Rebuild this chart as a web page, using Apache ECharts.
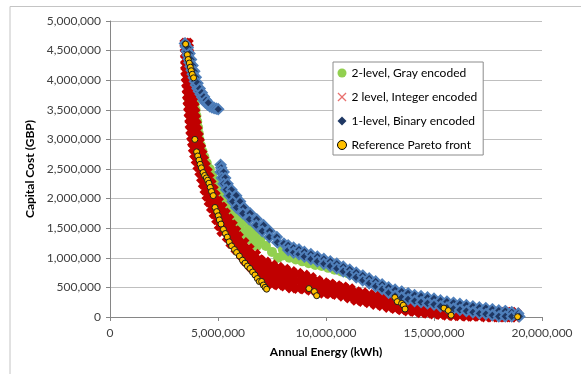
<!DOCTYPE html>
<html>
<head>
<meta charset="utf-8">
<script src="https://cdn.jsdelivr.net/npm/echarts@6/dist/echarts.min.js"></script>
<style>
    html, body { margin: 0; padding: 0; background: #fff; }
    #chart { width: 581px; height: 374px; }
</style>
</head>
<body>
<div id="chart"></div>
<script>
    // [annual energy kWh, capital cost GBP]
    var grayEncoded = [
        [3.87e6,3.7e6],[3.62e6,3.7e6],[3.92e6,3.6e6],[3.66e6,3.6e6],[3.96e6,3.5e6],[3.70e6,3.5e6],
        [4.00e6,3.4e6],[3.74e6,3.4e6],[4.04e6,3.3e6],[3.78e6,3.3e6],[4.08e6,3.2e6],[3.82e6,3.2e6],
        [4.11e6,3.1e6],[3.86e6,3.1e6],[4.14e6,3.0e6],[3.90e6,3.0e6],[4.20e6,2.9e6],[3.95e6,2.9e6],
        [4.28e6,2.8e6],[4.01e6,2.8e6],[4.37e6,2.7e6],[4.09e6,2.7e6],[4.48e6,2.6e6],[4.18e6,2.6e6],
        [4.62e6,2.5e6],[4.30e6,2.5e6],[4.73e6,2.4e6],[4.42e6,2.4e6],[4.84e6,2.3e6],[4.54e6,2.3e6],
        [4.96e6,2.2e6],[4.66e6,2.2e6],[5.09e6,2.1e6],[4.78e6,2.1e6],
        [5.24e6,2.0e6],[4.92e6,2.0e6],[4.62e6,2.0e6],[5.42e6,1.9e6],[5.08e6,1.9e6],[4.76e6,1.9e6],
        [5.62e6,1.8e6],[5.26e6,1.8e6],[4.92e6,1.8e6],[5.84e6,1.7e6],[5.46e6,1.7e6],[5.10e6,1.7e6],
        [6.12e6,1.6e6],[5.72e6,1.6e6],[5.32e6,1.6e6],[6.44e6,1.5e6],[6.02e6,1.5e6],[5.60e6,1.5e6],
        [6.70e6,1.4e6],[6.28e6,1.4e6],[5.86e6,1.4e6],[6.96e6,1.3e6],[6.54e6,1.3e6],[6.10e6,1.3e6],
        [7.22e6,1.2e6],[6.80e6,1.2e6],[7.50e6,1.1e6],[7.78e6,1.0e6],
        [8.0e6,1.04e6],[8.0e6,1.14e6],[8.3e6,1.00e6],[8.3e6,1.10e6],[8.6e6,0.97e6],[8.6e6,1.07e6],
        [8.9e6,0.94e6],[8.9e6,1.04e6],[9.2e6,0.91e6],[9.2e6,1.00e6],[9.5e6,0.88e6],[9.5e6,0.97e6],
        [9.8e6,0.86e6],[9.8e6,0.94e6],[10.1e6,0.83e6],[10.4e6,0.80e6],[10.7e6,0.77e6],[11.0e6,0.74e6],
        [11.3e6,0.71e6],[11.6e6,0.68e6]
    ];

    var integerEncoded = [
        [3.49e6,4.62e6],[3.60e6,4.62e6],[3.50e6,4.55e6],[3.61e6,4.55e6],[3.51e6,4.45e6],[3.62e6,4.45e6],
        [3.52e6,4.35e6],[3.62e6,4.35e6],[3.52e6,4.25e6],[3.63e6,4.25e6],[3.53e6,4.15e6],[3.64e6,4.15e6],
        [3.55e6,4.05e6],[3.68e6,4.05e6],[3.57e6,3.95e6],[3.72e6,3.95e6],[3.59e6,3.85e6],[3.76e6,3.85e6],
        [3.61e6,3.75e6],[3.80e6,3.75e6],[3.63e6,3.65e6],[3.84e6,3.65e6],[3.66e6,3.55e6],[3.87e6,3.55e6],
        [3.68e6,3.45e6],[3.91e6,3.45e6],[3.71e6,3.35e6],[3.94e6,3.35e6],[3.73e6,3.25e6],[3.98e6,3.25e6],
        [3.76e6,3.15e6],[4.01e6,3.15e6],[3.80e6,3.05e6],[4.07e6,3.05e6],[3.84e6,2.95e6],[4.12e6,2.95e6],
        [3.88e6,2.85e6],[4.18e6,2.85e6],[3.94e6,2.75e6],[4.24e6,2.75e6],[4.01e6,2.65e6],[4.31e6,2.65e6],
        [4.09e6,2.55e6],[4.39e6,2.55e6],[4.18e6,2.45e6],[4.48e6,2.45e6],[4.26e6,2.35e6],[4.57e6,2.35e6],
        [4.34e6,2.25e6],[4.66e6,2.25e6],[4.42e6,2.15e6],[4.76e6,2.15e6],
        [4.51e6,2.05e6],[4.68e6,2.05e6],[4.85e6,2.05e6],[4.61e6,1.95e6],[4.81e6,1.95e6],[5.00e6,1.95e6],
        [4.72e6,1.85e6],[4.94e6,1.85e6],[5.16e6,1.85e6],[4.84e6,1.75e6],[5.08e6,1.75e6],[5.32e6,1.75e6],
        [4.96e6,1.65e6],[5.22e6,1.65e6],[5.48e6,1.65e6],[5.08e6,1.55e6],[5.36e6,1.55e6],[5.64e6,1.55e6],
        [5.20e6,1.45e6],[5.42e6,1.45e6],[5.63e6,1.45e6],[5.80e6,1.45e6],
        [5.45e6,1.35e6],[5.68e6,1.35e6],[5.92e6,1.35e6],[5.62e6,1.25e6],[5.90e6,1.25e6],[6.18e6,1.25e6],
        [5.85e6,1.15e6],[6.12e6,1.15e6],[6.42e6,1.15e6],[6.10e6,1.05e6],[6.40e6,1.05e6],[6.72e6,1.05e6],
        [6.30e6,0.95e6],[6.60e6,0.95e6],[6.95e6,0.95e6],[6.55e6,0.85e6],[6.85e6,0.85e6],
        [6.9e6,0.74e6],[6.9e6,0.86e6],[6.9e6,0.96e6],
        [7.2e6,0.58e6],[7.2e6,0.70e6],[7.2e6,0.82e6],[7.2e6,0.92e6],
        [7.5e6,0.56e6],[7.5e6,0.66e6],[7.5e6,0.76e6],[7.5e6,0.87e6],
        [7.8e6,0.55e6],[7.8e6,0.65e6],[7.8e6,0.75e6],[7.8e6,0.83e6],
        [8.1e6,0.53e6],[8.1e6,0.62e6],[8.1e6,0.71e6],[8.1e6,0.80e6],
        [8.4e6,0.50e6],[8.4e6,0.59e6],[8.4e6,0.68e6],[8.4e6,0.76e6],
        [8.7e6,0.49e6],[8.7e6,0.61e6],[8.7e6,0.73e6],[9.0e6,0.48e6],[9.0e6,0.59e6],[9.0e6,0.70e6],
        [9.3e6,0.46e6],[9.3e6,0.56e6],[9.3e6,0.66e6],[9.6e6,0.43e6],[9.6e6,0.52e6],[9.6e6,0.61e6],
        [9.9e6,0.41e6],[9.9e6,0.49e6],[9.9e6,0.57e6],[10.2e6,0.40e6],[10.2e6,0.47e6],[10.2e6,0.55e6],
        [10.5e6,0.39e6],[10.5e6,0.46e6],[10.5e6,0.52e6],[10.8e6,0.36e6],[10.8e6,0.43e6],[10.8e6,0.50e6],
        [11.1e6,0.33e6],[11.1e6,0.40e6],[11.1e6,0.47e6],[11.4e6,0.29e6],[11.4e6,0.36e6],[11.4e6,0.42e6],
        [11.7e6,0.27e6],[11.7e6,0.34e6],[11.7e6,0.40e6],[12.0e6,0.25e6],[12.0e6,0.31e6],[12.0e6,0.37e6],
        [12.3e6,0.22e6],[12.3e6,0.29e6],[12.3e6,0.35e6],[12.6e6,0.20e6],[12.6e6,0.27e6],[12.6e6,0.33e6],
        [12.9e6,0.17e6],[12.9e6,0.24e6],[12.9e6,0.30e6],[13.2e6,0.15e6],[13.2e6,0.22e6],[13.2e6,0.28e6],
        [13.5e6,0.13e6],[13.5e6,0.20e6],[13.5e6,0.26e6],[13.8e6,0.11e6],[13.8e6,0.18e6],[13.8e6,0.24e6],
        [14.1e6,0.10e6],[14.1e6,0.16e6],[14.1e6,0.22e6],[14.4e6,0.08e6],[14.4e6,0.14e6],[14.4e6,0.20e6],
        [14.7e6,0.07e6],[14.7e6,0.13e6],[14.7e6,0.18e6],[15.0e6,0.06e6],[15.0e6,0.12e6],[15.0e6,0.17e6],
        [15.3e6,0.05e6],[15.3e6,0.11e6],[15.3e6,0.16e6],[15.6e6,0.04e6],[15.6e6,0.10e6],[15.6e6,0.15e6],
        [15.9e6,0.03e6],[15.9e6,0.09e6],[15.9e6,0.14e6],[16.2e6,0.03e6],[16.2e6,0.08e6],[16.2e6,0.13e6],
        [16.5e6,0.02e6],[16.5e6,0.07e6],[16.5e6,0.12e6],[16.8e6,0.02e6],[16.8e6,0.06e6],[16.8e6,0.11e6],
        [17.1e6,0.02e6],[17.1e6,0.05e6],[17.1e6,0.10e6],[17.4e6,0.01e6],[17.4e6,0.05e6],[17.4e6,0.09e6],
        [17.7e6,0.01e6],[17.7e6,0.04e6],[17.7e6,0.08e6],[18.0e6,0.01e6],[18.0e6,0.04e6],[18.0e6,0.07e6],
        [18.3e6,0.01e6],[18.3e6,0.04e6],[18.3e6,0.07e6],[18.6e6,0.01e6],[18.6e6,0.04e6],[18.6e6,0.07e6],
        [18.8e6,0.01e6],[18.8e6,0.04e6],[18.8e6,0.06e6]
    ];

    var binaryEncoded = [
        [3.47e6,4.62e6],[3.52e6,4.56e6],[3.55e6,4.49e6],[3.60e6,4.42e6],[3.64e6,4.36e6],[3.68e6,4.30e6],
        [3.73e6,4.23e6],[3.78e6,4.17e6],[3.83e6,4.10e6],[3.88e6,4.04e6],[3.93e6,3.98e6],[3.98e6,3.92e6],
        [4.05e6,3.86e6],[4.12e6,3.81e6],[4.20e6,3.76e6],[4.27e6,3.71e6],[4.34e6,3.66e6],[4.42e6,3.62e6],
        [4.52e6,3.59e6],[4.62e6,3.56e6],[4.72e6,3.54e6],[4.82e6,3.53e6],[4.92e6,3.52e6],[5.01e6,3.51e6],
        [3.60e6,4.55e6],[3.68e6,4.45e6],[3.75e6,4.35e6],[3.82e6,4.25e6],[3.90e6,4.15e6],[3.97e6,4.05e6],
        [4.05e6,3.95e6],[4.15e6,3.86e6],[4.25e6,3.79e6],[4.35e6,3.72e6],[4.45e6,3.66e6],[4.55e6,3.62e6],
        [5.12e6,2.57e6],[5.15e6,2.52e6],[5.12e6,2.45e6],[5.26e6,2.45e6],[5.18e6,2.35e6],[5.33e6,2.35e6],
        [5.26e6,2.25e6],[5.44e6,2.25e6],[5.38e6,2.15e6],[5.62e6,2.15e6],[5.52e6,2.05e6],[5.84e6,2.05e6],
        [5.68e6,1.95e6],[6.02e6,1.95e6],[5.85e6,1.85e6],[6.19e6,1.85e6],[6.15e6,1.75e6],[6.49e6,1.75e6],
        [6.45e6,1.65e6],[6.79e6,1.65e6],[6.77e6,1.55e6],[7.11e6,1.55e6],[7.05e6,1.45e6],[7.39e6,1.45e6],
        [7.38e6,1.35e6],[7.72e6,1.35e6],[7.75e6,1.26e6],[8.05e6,1.24e6],
        [8.25e6,1.21e6],[8.25e6,1.13e6],
        [8.5e6,1.17e6],[8.5e6,1.09e6],[8.75e6,1.14e6],[8.75e6,1.06e6],[9.0e6,1.10e6],[9.0e6,1.02e6],
        [9.3e6,1.06e6],[9.3e6,0.98e6],[9.6e6,1.02e6],[9.6e6,0.94e6],[9.9e6,0.98e6],[9.9e6,0.90e6],
        [10.2e6,0.94e6],[10.2e6,0.86e6],[10.5e6,0.90e6],[10.5e6,0.82e6],[10.8e6,0.85e6],[10.8e6,0.77e6],
        [11.1e6,0.80e6],[11.1e6,0.72e6],[11.4e6,0.75e6],[11.4e6,0.67e6],[11.7e6,0.70e6],[11.7e6,0.62e6],
        [12.0e6,0.65e6],[12.0e6,0.57e6],[12.3e6,0.60e6],[12.3e6,0.52e6],[12.6e6,0.55e6],[12.6e6,0.47e6],
        [12.9e6,0.50e6],[12.9e6,0.41e6],[13.2e6,0.46e6],[13.2e6,0.36e6],[13.5e6,0.43e6],[13.5e6,0.33e6],
        [13.8e6,0.40e6],[13.8e6,0.30e6],[14.1e6,0.37e6],[14.1e6,0.27e6],[14.4e6,0.35e6],[14.4e6,0.25e6],
        [14.7e6,0.33e6],[14.7e6,0.23e6],[15.0e6,0.31e6],[15.0e6,0.21e6],[15.3e6,0.28e6],[15.3e6,0.18e6],
        [15.6e6,0.26e6],[15.6e6,0.16e6],[15.9e6,0.24e6],[15.9e6,0.14e6],[16.2e6,0.22e6],[16.2e6,0.12e6],
        [16.5e6,0.20e6],[16.5e6,0.10e6],[16.8e6,0.18e6],[16.8e6,0.08e6],[17.1e6,0.16e6],[17.1e6,0.06e6],
        [17.4e6,0.15e6],[17.4e6,0.05e6],[17.7e6,0.13e6],[17.7e6,0.03e6],[18.0e6,0.11e6],[18.0e6,0.01e6],
        [18.3e6,0.10e6],[18.3e6,0.01e6],[18.6e6,0.08e6],[18.6e6,0.01e6],[18.9e6,0.06e6],[18.95e6,0.01e6]
    ];

    var paretoFront = [
        [3.50e6,4.61e6],[3.58e6,4.43e6],[3.62e6,4.35e6],[3.67e6,4.29e6],[3.72e6,4.22e6],[3.76e6,4.16e6],
        [3.81e6,4.10e6],[3.87e6,4.04e6],
        [3.93e6,3.00e6],[4.01e6,2.79e6],[4.06e6,2.72e6],[4.12e6,2.65e6],[4.17e6,2.58e6],[4.23e6,2.52e6],
        [4.31e6,2.44e6],[4.38e6,2.39e6],[4.46e6,2.35e6],[4.52e6,2.31e6],[4.58e6,2.26e6],[4.64e6,2.19e6],
        [4.70e6,2.12e6],[4.78e6,2.05e6],
        [4.86e6,1.85e6],[4.94e6,1.78e6],[5.01e6,1.71e6],[5.06e6,1.64e6],[5.14e6,1.57e6],[5.25e6,1.48e6],
        [5.34e6,1.41e6],[5.43e6,1.35e6],[5.52e6,1.27e6],[5.63e6,1.20e6],[5.76e6,1.14e6],[5.86e6,1.09e6],
        [5.99e6,1.03e6],[6.13e6,0.96e6],[6.25e6,0.91e6],[6.36e6,0.86e6],[6.48e6,0.82e6],[6.60e6,0.76e6],
        [6.71e6,0.71e6],[6.82e6,0.65e6],[6.91e6,0.60e6],[7.02e6,0.60e6],[7.10e6,0.54e6],[7.18e6,0.50e6],
        [7.25e6,0.47e6],
        [9.21e6,0.48e6],[9.46e6,0.43e6],[9.57e6,0.36e6],
        [13.19e6,0.33e6],[13.30e6,0.26e6],[13.50e6,0.23e6],[13.58e6,0.20e6],[13.66e6,0.135e6],
        [15.46e6,0.15e6],[15.66e6,0.11e6],[15.79e6,0.03e6],
        [18.87e6,0.005e6]
    ];

    var seriesNames = ['2-level, Gray encoded', '2 level, Integer encoded', '1-level, Binary encoded', 'Reference Pareto front'];

    var fontName = 'Lato, "Liberation Sans", sans-serif';
    var crossBold = 'path://M0,3L3,0L5,2L7,0L10,3L8,5L10,7L7,10L5,8L3,10L0,7L2,5Z';
    var crossThin = 'path://M0,1L1,0L5,4L9,0L10,1L6,5L10,9L9,10L5,6L1,10L0,9L4,5Z';

    function thousands(v) {
        return String(v).replace(/\B(?=(\d{3})+(?!\d))/g, ',');
    }

    var chart = echarts.init(document.getElementById('chart'), null, {renderer: 'canvas'});

    chart.setOption({
        animation: false,
        backgroundColor: '#fff',
        graphic: [
            {
                type: 'rect',
                shape: {x: 10, y: 6.5, width: 700, height: 500},
                style: {fill: 'none', stroke: '#C4C4C4', lineWidth: 1},
                silent: true
            }
        ],
        grid: {left: 110, right: 39, top: 21, bottom: 57},
        legend: {
            orient: 'vertical',
            left: 333,
            top: 62,
            padding: [5, 6, 4, 4],
            itemGap: 12,
            itemWidth: 9,
            itemHeight: 9,
            borderColor: '#8C8C8C',
            borderWidth: 1,
            backgroundColor: '#fff',
            textStyle: {fontFamily: fontName, fontSize: 12, color: '#000'},
            data: [
                {name: seriesNames[0], icon: 'circle', itemStyle: {color: '#92D050'}},
                {name: seriesNames[1], icon: crossThin, itemStyle: {color: '#E8706E'}},
                {name: seriesNames[2], icon: 'diamond', itemStyle: {color: '#1F3864', borderWidth: 0}},
                {name: seriesNames[3], icon: 'circle', itemStyle: {color: '#FFC000', borderColor: '#000', borderWidth: 1}}
            ]
        },
        xAxis: {
            type: 'value',
            min: 0,
            max: 2e7,
            interval: 5e6,
            name: 'Annual Energy (kWh)',
            nameLocation: 'middle',
            nameGap: 29,
            nameTextStyle: {fontFamily: fontName, fontSize: 12, fontWeight: 'bold', color: '#000'},
            axisLine: {show: true, lineStyle: {color: '#868686'}},
            axisTick: {show: true, length: 4, lineStyle: {color: '#868686'}},
            axisLabel: {formatter: thousands, margin: 10, fontFamily: fontName, fontSize: 12, color: '#404040'},
            splitLine: {show: false}
        },
        yAxis: {
            type: 'value',
            min: 0,
            max: 5e6,
            interval: 5e5,
            name: 'Capital Cost (GBP)',
            nameLocation: 'middle',
            nameGap: 70,
            nameTextStyle: {fontFamily: fontName, fontSize: 12, fontWeight: 'bold', color: '#000'},
            axisLine: {show: true, lineStyle: {color: '#868686'}},
            axisTick: {show: true, length: 4, lineStyle: {color: '#868686'}},
            axisLabel: {formatter: thousands, margin: 9, fontFamily: fontName, fontSize: 12, color: '#404040'},
            splitLine: {show: true, lineStyle: {color: '#BFBFBF'}}
        },
        series: [
            {
                name: seriesNames[0],
                type: 'scatter',
                data: grayEncoded,
                symbol: 'circle',
                symbolSize: 10,
                itemStyle: {color: '#92D050', opacity: 1}
            },
            {
                name: seriesNames[1],
                type: 'scatter',
                data: integerEncoded,
                symbol: crossBold,
                symbolSize: 12,
                itemStyle: {color: '#C00000', opacity: 1}
            },
            {
                name: seriesNames[2],
                type: 'scatter',
                data: binaryEncoded,
                symbol: 'diamond',
                symbolSize: 10,
                itemStyle: {color: '#1F3864', borderColor: '#4F7FBA', borderWidth: 2, opacity: 1}
            },
            {
                name: seriesNames[3],
                type: 'scatter',
                data: paretoFront,
                symbol: 'circle',
                symbolSize: 6,
                itemStyle: {color: '#FFC000', borderColor: '#1A1A1A', borderWidth: 1, opacity: 1}
            }
        ]
    });
</script>
</body>
</html>
